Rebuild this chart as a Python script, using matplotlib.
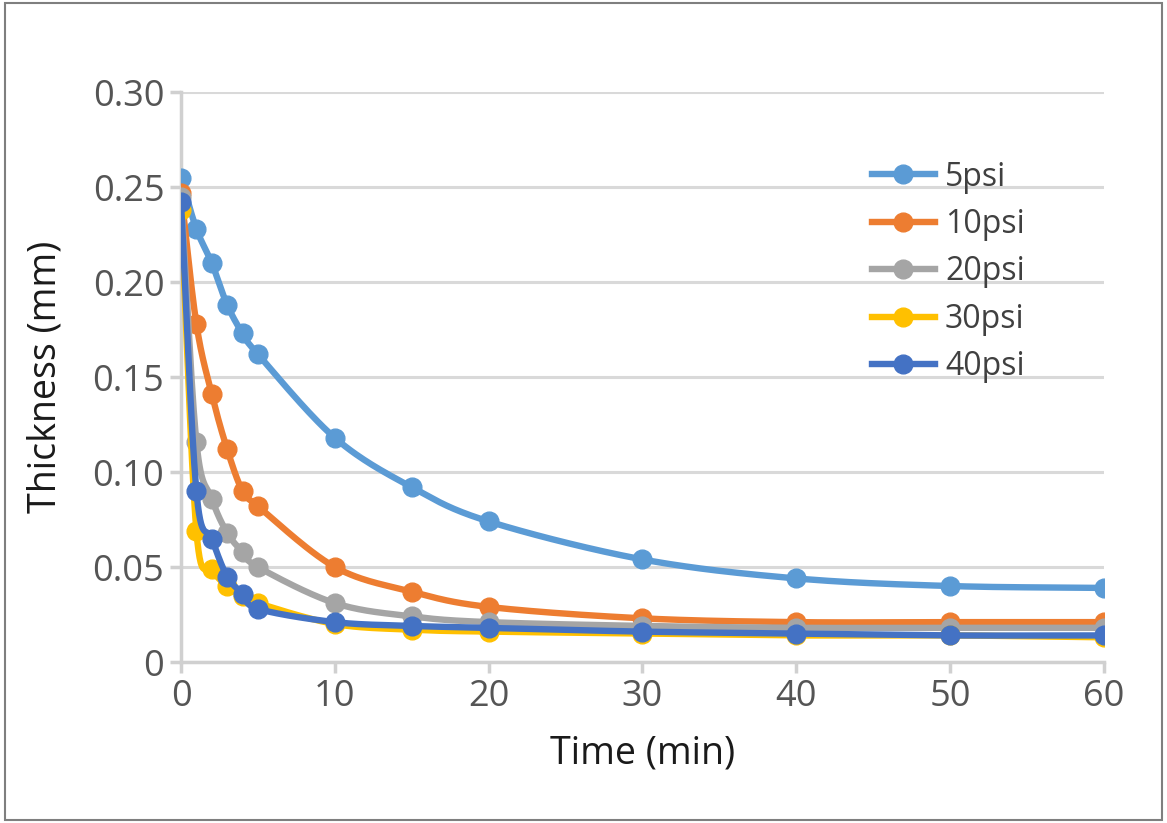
import matplotlib
matplotlib.use("Agg")
import matplotlib.pyplot as plt
from matplotlib.lines import Line2D
from matplotlib.patches import Rectangle
import numpy as np

# data
time_min = [0, 1, 2, 3, 4, 5, 10, 15, 20, 30, 40, 50, 60]
psi_5 = [0.255, 0.228, 0.210, 0.188, 0.173, 0.162, 0.118, 0.092, 0.074, 0.054, 0.044, 0.040, 0.039]
psi_10 = [0.247, 0.178, 0.141, 0.112, 0.090, 0.082, 0.050, 0.037, 0.029, 0.023, 0.021, 0.021, 0.021]
psi_20 = [0.245, 0.116, 0.086, 0.068, 0.058, 0.050, 0.031, 0.024, 0.021, 0.019, 0.018, 0.018, 0.018]
psi_30 = [0.238, 0.069, 0.049, 0.040, 0.035, 0.031, 0.020, 0.017, 0.016, 0.015, 0.014, 0.014, 0.013]
psi_40 = [0.242, 0.090, 0.065, 0.045, 0.036, 0.028, 0.021, 0.019, 0.018, 0.016, 0.015, 0.014, 0.014]

labels = ["5psi", "10psi", "20psi", "30psi", "40psi"]
colors = ["#5B9BD5", "#ED7D31", "#A5A5A5", "#FFC000", "#4472C4"]
series = [psi_5, psi_10, psi_20, psi_30, psi_40]

plt.rcParams['font.family'] = ['Open Sans', 'DejaVu Sans']


def smooth(x, y, n=30):
    # catmull-rom style curve through the points, like Excel's smoothed line
    x = np.asarray(x, float)
    y = np.asarray(y, float)
    px = np.concatenate([[2 * x[0] - x[1]], x, [2 * x[-1] - x[-2]]])
    py = np.concatenate([[2 * y[0] - y[1]], y, [2 * y[-1] - y[-2]]])
    xs, ys = [], []
    for i in range(1, len(px) - 2):
        t = np.linspace(0, 1, n)
        b0 = -0.5 * t**3 + t**2 - 0.5 * t
        b1 = 1.5 * t**3 - 2.5 * t**2 + 1
        b2 = -1.5 * t**3 + 2 * t**2 + 0.5 * t
        b3 = 0.5 * t**3 - 0.5 * t**2
        xs.append(b0 * px[i-1] + b1 * px[i] + b2 * px[i+1] + b3 * px[i+2])
        ys.append(b0 * py[i-1] + b1 * py[i] + b2 * py[i+1] + b3 * py[i+2])
    return np.concatenate(xs), np.concatenate(ys)


fig = plt.figure(figsize=(11.67, 8.23), dpi=100)
ax = fig.add_axes([0.1551, 0.1956, 0.946 - 0.1551, 0.8882 - 0.1956])

for y, c, lab in zip(series, colors, labels):
    sx, sy = smooth(time_min, y)
    ax.plot(sx, sy, color=c, lw=4.6, solid_capstyle='round', zorder=3)
    ax.plot(time_min, y, 'o', color=c, ms=13.5, zorder=3)

ax.set_xlim(0, 60)
ax.set_ylim(0, 0.30)
ax.set_xticks([0, 10, 20, 30, 40, 50, 60])
ax.set_yticks([0, 0.05, 0.10, 0.15, 0.20, 0.25, 0.30])
ax.set_yticklabels(["0", "0.05", "0.10", "0.15", "0.20", "0.25", "0.30"])
ax.grid(axis='y', color='#D9D9D9', lw=2.2, zorder=0)
ax.set_axisbelow(True)
for s in ['top', 'right']:
    ax.spines[s].set_visible(False)
for s in ['left', 'bottom']:
    ax.spines[s].set_color('#D0D0D0')
    ax.spines[s].set_linewidth(2.5)
ax.tick_params(axis='both', colors='#D0D0D0', width=2.5, length=8,
               labelcolor='#555555', labelsize=26, pad=4)
ax.set_xlabel("Time (min)", fontsize=27, color='#1a1a1a', labelpad=14)
ax.set_ylabel("Thickness (mm)", fontsize=27, color='#1a1a1a', labelpad=20)

handles = [Line2D([0], [0], color=c, lw=4.6, marker='o', ms=13.5) for c in colors]
leg = ax.legend(handles, labels, loc='upper left', bbox_to_anchor=(0.717, 0.93),
                frameon=False, fontsize=23, handlelength=2.0, labelspacing=0.45,
                handletextpad=0.3, labelcolor='#404040')

fig.patches.append(Rectangle((0.004, 0.004), 0.992, 0.992, transform=fig.transFigure,
                             fill=False, edgecolor='#7F7F7F', lw=1.5))

fig.savefig("out.png", dpi=100)
